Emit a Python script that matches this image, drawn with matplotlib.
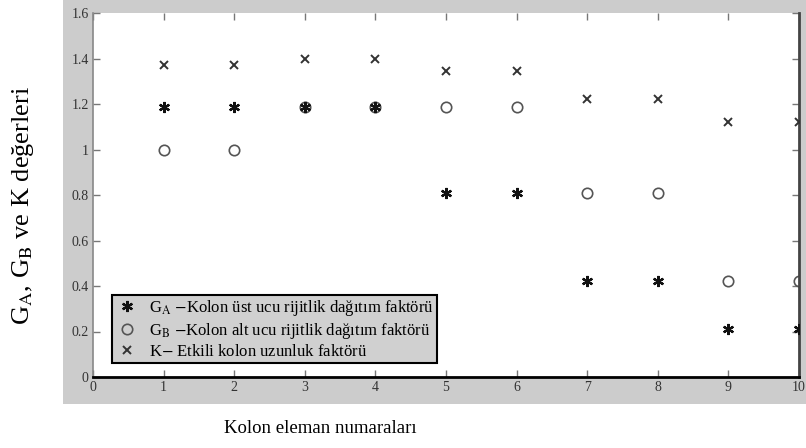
import numpy as np
import matplotlib.pyplot as plt
from matplotlib.patches import Rectangle

plt.rcParams['font.family'] = ['Liberation Serif', 'DejaVu Serif']
plt.rcParams['mathtext.fontset'] = 'stix'

# Data
kolon = [1, 2, 3, 4, 5, 6, 7, 8, 9, 10]
G_A = [1.185, 1.185, 1.185, 1.185, 0.81, 0.81, 0.42, 0.42, 0.21, 0.21]
G_B = [1.0, 1.0, 1.185, 1.185, 1.185, 1.185, 0.81, 0.81, 0.42, 0.42]
K = [1.37, 1.37, 1.40, 1.40, 1.345, 1.345, 1.22, 1.22, 1.12, 1.12]

labels = [r'G$_{\mathrm{A}}$ $-$Kolon üst ucu rijitlik dağıtım faktörü',
          r'G$_{\mathrm{B}}$ $-$Kolon alt ucu rijitlik dağıtım faktörü',
          r'K$-$ Etkili kolon uzunluk faktörü']
yticks = [0, 0.2, 0.4, 0.6, 0.8, 1, 1.2, 1.4, 1.6]
yticklabels = ['0', '0.2', '0.4', '0.6', '0.8', '1', '1.2', '1.4', '1.6']

W, H = 806, 448
fig = plt.figure(figsize=(W / 100, H / 100), dpi=100)
fig.patch.set_facecolor('white')

# gray MATLAB figure panel
fig.patches.append(Rectangle((63 / W, 1 - 404 / H), 1 - 63 / W, 404 / H,
                             transform=fig.transFigure, facecolor='#cccccc',
                             edgecolor='none', zorder=-5))

ax = fig.add_axes([93 / W, 1 - 377 / H, (799 - 93) / W, (377 - 13) / H])
ax.set_zorder(2)
ax.set_facecolor('white')

ax.plot(kolon, G_A, linestyle='none', marker=(6, 2, 0), markersize=8,
        markeredgewidth=1.6, color='#111111', label=labels[0], zorder=3)
ax.plot(kolon, G_B, linestyle='none', marker='o', markersize=7.5,
        markerfacecolor='none', markeredgewidth=1.2, markeredgecolor='#555555',
        label=labels[1], zorder=2)
ax.plot(kolon, K, linestyle='none', marker='x', markersize=5.5,
        markeredgewidth=1.4, color='#333333', label=labels[2], zorder=3)

ax.set_xlim(0, 10)
ax.set_ylim(0, 1.6)
ax.set_xticks(range(0, 11))
ax.set_yticks(yticks)
ax.set_yticklabels(yticklabels)
ax.tick_params(direction='in', length=5, width=1, color='#777777',
               labelsize=10, labelcolor='#333333', top=True, right=True, pad=3)

ax.spines['top'].set_visible(False)
ax.spines['left'].set_color('#888888')
ax.spines['left'].set_linewidth(1.2)
ax.spines['bottom'].set_color('black')
ax.spines['bottom'].set_linewidth(2)
ax.spines['right'].set_color('#444444')
ax.spines['right'].set_linewidth(2)

leg = ax.legend(loc='lower left', bbox_to_anchor=(0.027, 0.038), fontsize=12,
                frameon=True, fancybox=False, framealpha=1, borderpad=0.2,
                labelspacing=0.18, handletextpad=0.6, handlelength=1.4,
                borderaxespad=0)
leg.get_frame().set_facecolor('#d0d0d0')
leg.get_frame().set_edgecolor('black')
leg.get_frame().set_linewidth(1.5)

fig.text(23 / W, 1 - 205 / H, r'G$_{\mathrm{A}}$, G$_{\mathrm{B}}$ ve K değerleri',
         rotation=90, ha='center', va='center', fontsize=19)
fig.text(320 / W, 1 - 428 / H, 'Kolon eleman numaraları',
         ha='center', va='center', fontsize=13.5)

fig.savefig('out.png', dpi=100)
